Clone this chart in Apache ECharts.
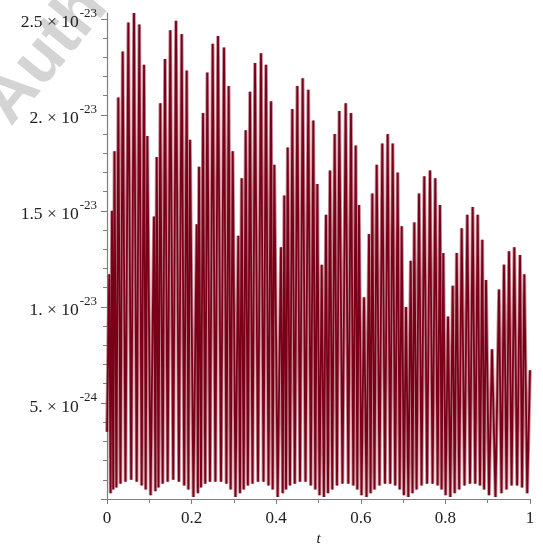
<!DOCTYPE html>
<html>
<head>
<meta charset="utf-8">
<script src="https://cdn.jsdelivr.net/npm/echarts@6/dist/echarts.min.js"></script>
<style>
  html, body { margin: 0; padding: 0; background: #fff; }
  #chart { width: 543px; height: 544px; }
</style>
</head>
<body>
<div id="chart"></div>
<script>
// t values of the plotted polyline (peaks and troughs)
const tVals = [
  0, 0.0054, 0.0085, 0.0118, 0.0147, 0.0177, 0.0222, 0.0267, 0.0319, 0.0371,
  0.0437, 0.0504, 0.0572, 0.0638, 0.0702, 0.0764, 0.0820, 0.0875, 0.0915, 0.0953,
  0.1031, 0.1111, 0.1144, 0.1175, 0.1217, 0.1260, 0.1317, 0.1371, 0.1435, 0.1496,
  0.1565, 0.1631, 0.1700, 0.1766, 0.1825, 0.1884, 0.1924, 0.1962, 0.2043, 0.2121,
  0.2149, 0.2175, 0.2222, 0.2270, 0.2322, 0.2371, 0.2435, 0.2499, 0.2563, 0.2624,
  0.2695, 0.2766, 0.2823, 0.2877, 0.2924, 0.2972, 0.3038, 0.3104, 0.3144, 0.3184,
  0.3232, 0.3279, 0.3331, 0.3381, 0.3440, 0.3499, 0.3570, 0.3641, 0.3700, 0.3759,
  0.3818, 0.3877, 0.3917, 0.3955, 0.4035, 0.4113, 0.4154, 0.4191, 0.4232, 0.4272,
  0.4326, 0.4381, 0.4440, 0.4499, 0.4563, 0.4626, 0.4693, 0.4759, 0.4818, 0.4877,
  0.4924, 0.4972, 0.5024, 0.5076, 0.5128, 0.5177, 0.5225, 0.5272, 0.5326, 0.5383,
  0.5437, 0.5492, 0.5567, 0.5643, 0.5705, 0.5768, 0.5823, 0.5880, 0.5917, 0.5957,
  0.6017, 0.6076, 0.6135, 0.6194, 0.6232, 0.6272, 0.6324, 0.6376, 0.6442, 0.6508,
  0.6572, 0.6636, 0.6695, 0.6754, 0.6813, 0.6872, 0.6920, 0.6967, 0.7019, 0.7069,
  0.7123, 0.7180, 0.7222, 0.7265, 0.7319, 0.7376, 0.7437, 0.7501, 0.7567, 0.7636,
  0.7697, 0.7761, 0.7816, 0.7872, 0.7910, 0.7950, 0.8005, 0.8062, 0.8116, 0.8173,
  0.8220, 0.8267, 0.8326, 0.8385, 0.8452, 0.8518, 0.8582, 0.8645, 0.8705, 0.8764,
  0.8818, 0.8872, 0.8915, 0.8960, 0.9031, 0.9102, 0.9184, 0.9267, 0.9326, 0.9385,
  0.9445, 0.9504, 0.9565, 0.9629, 0.9695, 0.9764, 0.9813, 0.9865, 0.9934, 1
];

// plotted value, in units of 1e-23
const yVals = [
  0.35, 1.17, 0.03, 1.50, 0.05, 1.81, 0.06, 2.09, 0.08, 2.33,
  0.09, 2.48, 0.10, 2.53, 0.09, 2.47, 0.07, 2.26, 0.05, 1.89,
  0.02, 1.47, 0.04, 1.78, 0.06, 2.06, 0.08, 2.29, 0.09, 2.44,
  0.10, 2.49, 0.09, 2.42, 0.07, 2.23, 0.05, 1.87, 0.01, 1.43,
  0.03, 1.73, 0.06, 2.01, 0.08, 2.22, 0.09, 2.37, 0.09, 2.41,
  0.09, 2.35, 0.08, 2.15, 0.05, 1.81, 0.01, 1.37, 0.03, 1.67,
  0.05, 1.92, 0.07, 2.12, 0.08, 2.27, 0.09, 2.32, 0.09, 2.26,
  0.07, 2.07, 0.05, 1.74, 0.01, 1.31, 0.03, 1.58, 0.05, 1.83,
  0.07, 2.03, 0.08, 2.15, 0.09, 2.19, 0.09, 2.13, 0.07, 1.97,
  0.05, 1.64, 0.02, 1.22, 0.01, 1.48, 0.03, 1.71, 0.05, 1.90,
  0.07, 2.02, 0.08, 2.06, 0.08, 2.01, 0.07, 1.84, 0.05, 1.53,
  0.02, 1.05, 0.01, 1.38, 0.03, 1.59, 0.05, 1.74, 0.07, 1.85,
  0.08, 1.90, 0.08, 1.85, 0.07, 1.70, 0.05, 1.42, 0.02, 1.00,
  0.01, 1.24, 0.03, 1.44, 0.05, 1.59, 0.07, 1.68, 0.08, 1.71,
  0.08, 1.67, 0.07, 1.53, 0.05, 1.28, 0.02, 0.95, 0.01, 1.11,
  0.03, 1.28, 0.05, 1.41, 0.07, 1.48, 0.08, 1.52, 0.08, 1.48,
  0.07, 1.35, 0.05, 1.14, 0.02, 0.78, 0.01, 1.09, 0.03, 1.22,
  0.05, 1.29, 0.07, 1.31, 0.07, 1.27, 0.06, 1.17, 0.03, 0.67
];

// y tick labels (mantissa and power of ten)
const yTickVals = [0.5, 1, 1.5, 2, 2.5];
const yTickMant = ['5.', '1.', '1.5', '2.', '2.5'];
const yTickExp = ['-24', '-23', '-23', '-23', '-23'];

const chart = echarts.init(document.getElementById('chart'));

const serif = '"Liberation Serif", "DejaVu Serif", serif';
const axisGrey = '#7f7f7f';
const points = tVals.map(function (t, i) { return [t, yVals[i]]; });

const option = {
  backgroundColor: '#fff',
  animation: false,
  graphic: [
    {
      // faint watermark in the corner, behind the labels
      type: 'text',
      left: -30,
      top: -26,
      rotation: Math.PI * 0.28,
      style: {
        text: 'Auth',
        font: 'bold 68px "Liberation Sans", sans-serif',
        fill: 'rgba(170,170,170,0.5)'
      },
      z: -10
    }
  ],
  grid: { left: 107, right: 13, top: 13, bottom: 45, outerBoundsMode: 'none' },
  xAxis: {
    type: 'value',
    min: 0,
    max: 1,
    interval: 0.2,
    name: 't',
    nameLocation: 'middle',
    nameGap: 33,
    nameTextStyle: { fontFamily: serif, fontStyle: 'italic', fontSize: 15, color: '#222' },
    axisLine: { show: true, lineStyle: { color: axisGrey, width: 1.2 } },
    axisTick: { show: true, length: 5, lineStyle: { color: axisGrey } },
    minorTick: { show: true, splitNumber: 2, length: 4, lineStyle: { color: axisGrey } },
    axisLabel: { fontFamily: serif, fontSize: 17, color: '#222', margin: 11 },
    splitLine: { show: false }
  },
  yAxis: {
    type: 'value',
    min: 0,
    max: 2.53,
    interval: 0.5,
    axisLine: { show: true, lineStyle: { color: axisGrey, width: 1.2 } },
    axisTick: {
      show: true, length: 6, lineStyle: { color: axisGrey },
      customValues: [0, 0.5, 1, 1.5, 2, 2.5]
    },
    minorTick: { show: true, splitNumber: 5, length: 4, lineStyle: { color: axisGrey } },
    axisLabel: {
      margin: 10,
      customValues: yTickVals,
      formatter: function (v) {
        const i = yTickVals.findIndex(function (x) { return Math.abs(x - v) < 1e-9; });
        if (i < 0) return '';
        return '{b|' + yTickMant[i] + ' \u00d7 10}{s|' + yTickExp[i] + '}';
      },
      rich: {
        b: { fontFamily: serif, fontSize: 17.5, color: '#222', lineHeight: 26, verticalAlign: 'bottom', padding: [6, 0, 0, 0] },
        s: { fontFamily: serif, fontSize: 13, color: '#222', lineHeight: 26, verticalAlign: 'top', padding: [1, 0, 0, 1] }
      }
    },
    splitLine: { show: false }
  },
  series: [
    {
      // soft halo under the curve, like the blurred strokes of the scan
      type: 'line',
      data: points,
      showSymbol: false,
      symbol: 'none',
      silent: true,
      lineStyle: { color: 'rgba(150,45,65,0.55)', width: 3.6 },
      z: 1
    },
    {
      type: 'line',
      data: points,
      showSymbol: false,
      symbol: 'none',
      lineStyle: { color: '#7a0018', width: 1.8 },
      z: 2
    }
  ]
};

chart.setOption(option);
</script>
</body>
</html>
